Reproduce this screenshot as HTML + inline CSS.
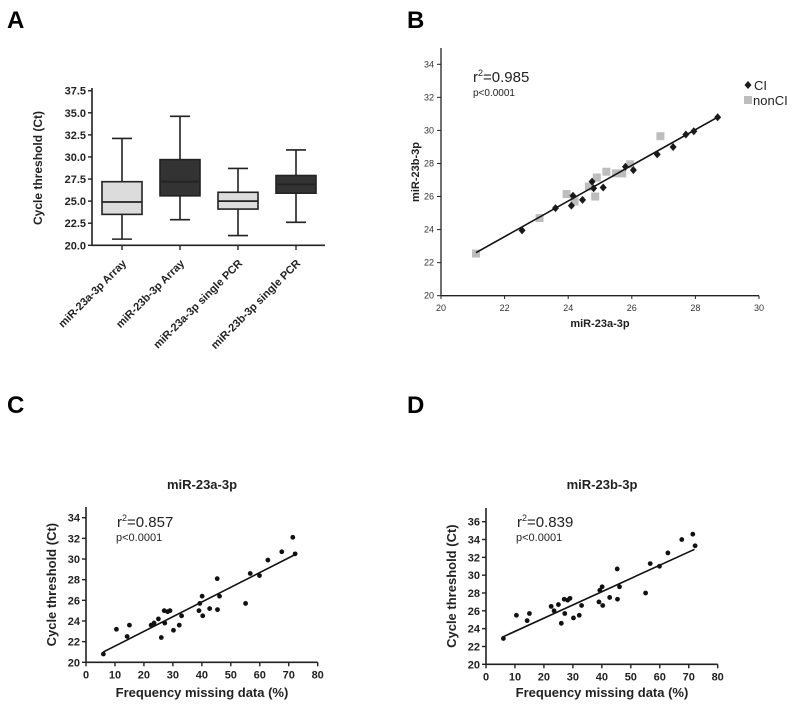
<!DOCTYPE html>
<html><head><meta charset="utf-8"><style>
html,body{margin:0;padding:0;background:#fff;}
svg{display:block;font-family:"Liberation Sans",Arial,sans-serif;}
</style></head><body>
<svg id="fig" width="800" height="708" viewBox="0 0 800 708" xmlns="http://www.w3.org/2000/svg">
<text x="7" y="28" font-size="24" font-weight="bold">A</text>
<text x="407" y="28" font-size="24" font-weight="bold">B</text>
<text x="7" y="413" font-size="24" font-weight="bold">C</text>
<text x="407" y="413" font-size="24" font-weight="bold">D</text>
<g id="pa"></g>
<g id="pb"></g>
<g id="pc"></g>
<g id="pd"></g>
</svg>
<script>
// Panel A data
const boxCategories = ["miR-23a-3p Array","miR-23b-3p Array","miR-23a-3p single PCR","miR-23b-3p single PCR"];
const boxMin = [20.7, 22.9, 21.1, 22.6];
const boxQ1 = [23.5, 25.6, 24.1, 25.9];
const boxMedian = [24.9, 27.2, 25.0, 26.9];
const boxQ3 = [27.2, 29.7, 26.0, 27.9];
const boxMax = [32.1, 34.6, 28.7, 30.8];
const boxFill = ["#dcdcdc","#333333","#dcdcdc","#333333"];
const boxTicks = ["20.0","22.5","25.0","27.5","30.0","32.5","35.0","37.5"];
// Panel B data
const bCIx = [22.55,23.6,24.1,24.15,24.45,24.75,24.8,25.1,25.8,26.05,26.8,27.3,27.7,27.95,28.7];
const bCIy = [23.95,25.3,25.45,26.05,25.8,26.9,26.5,26.55,27.8,27.6,28.55,29.0,29.75,29.95,30.8];
const bNonx = [21.1,23.1,23.95,24.2,24.65,24.85,24.9,25.2,25.5,25.7,25.95,26.9];
const bNony = [22.55,24.7,26.15,25.7,26.6,26.0,27.15,27.5,27.4,27.4,27.95,29.65];
const bFit = [[21.1,22.6],[28.7,30.8]];
const bXTicks = [20,22,24,26,28,30];
const bYTicks = [20,22,24,26,28,30,32,34];
// Panel C/D data
const freqX = [6,10.5,14.2,15,22.5,23.5,25,26,27,27.2,28.2,29,30.2,32.2,33,39,39.3,40.1,40.3,42.7,45.3,45.4,46.1,55.1,56.7,59.9,62.8,67.6,71.4,72.2];
const cY = [20.8,23.2,22.5,23.6,23.6,23.8,24.2,22.4,25,23.8,24.9,25,23.1,23.6,24.5,25,25.7,26.4,24.5,25.2,28.1,25.1,26.4,25.7,28.6,28.4,29.9,30.7,32.1,30.5];
const dY = [22.9,25.5,24.9,25.7,26.5,26,26.7,24.6,27.3,25.7,27.2,27.4,25.2,25.5,26.6,27,28.3,28.7,26.6,27.5,30.7,27.3,28.7,28,31.3,31,32.5,34,34.6,33.3];
const cFit = [[6,21.0],[72,30.4]];
const dFit = [[6,23.1],[72,32.9]];
const freqXTicks = [0,10,20,30,40,50,60,70,80];
const cYTicks = [20,22,24,26,28,30,32,34];
const dYTicks = [20,22,24,26,28,30,32,34,36];

const NS="http://www.w3.org/2000/svg";
function mk(parent,tag,attrs,text){const e=document.createElementNS(NS,tag);for(const k in attrs)e.setAttribute(k,attrs[k]);if(text!==undefined)e.textContent=text;parent.appendChild(e);return e;}
function lin(d0,d1,r0,r1){return v=>r0+(v-d0)*(r1-r0)/(d1-d0);}

// ---- Panel A
(function(){
  const g=document.getElementById('pa');
  const y=lin(20,37.5,245.3,90.7);
  const x0=92,x1=325,cx=[122,180,238,296];
  let e=mk(g,'line',{x1:x0,y1:88,x2:x0,y2:245.3,stroke:'#222','stroke-width':1.6});
  
  e=mk(g,'line',{x1:x0,y1:245.3,x2:x1,y2:245.3,stroke:'#222','stroke-width':1.6});
  
  boxTicks.forEach(t=>{const v=parseFloat(t);
    mk(g,'line',{x1:x0-4,y1:y(v),x2:x0,y2:y(v),stroke:'#222','stroke-width':1.4});
    e=mk(g,'text',{x:x0-6,y:y(v)+4,'font-size':11,'font-weight':'bold','text-anchor':'end',fill:'#222'},t);
    
  });
  e=mk(g,'text',{x:0,y:0,'font-size':12,'font-weight':'bold','text-anchor':'middle',transform:'translate(42,168) rotate(-90)',fill:'#222'},'Cycle threshold (Ct)');
  
  boxCategories.forEach((c,i)=>{const X=cx[i],hw=20;
    const b=mk(g,'g',{});
    mk(b,'line',{x1:X,y1:y(boxMax[i]),x2:X,y2:y(boxMin[i]),stroke:'#222','stroke-width':1.6});
    mk(b,'line',{x1:X-10,y1:y(boxMax[i]),x2:X+10,y2:y(boxMax[i]),stroke:'#222','stroke-width':1.6});
    mk(b,'line',{x1:X-10,y1:y(boxMin[i]),x2:X+10,y2:y(boxMin[i]),stroke:'#222','stroke-width':1.6});
    mk(b,'rect',{x:X-hw,y:y(boxQ3[i]),width:2*hw,height:y(boxQ1[i])-y(boxQ3[i]),fill:boxFill[i],stroke:'#222','stroke-width':1.6});
    mk(b,'line',{x1:X-hw,y1:y(boxMedian[i]),x2:X+hw,y2:y(boxMedian[i]),stroke:'#222','stroke-width':1.8});
    mk(g,'line',{x1:X,y1:245.3,x2:X,y2:250,stroke:'#222','stroke-width':1.4});
    e=mk(g,'text',{x:0,y:0,'font-size':11,'font-weight':'bold','text-anchor':'end',transform:`translate(${X+5},264) rotate(-45)`,fill:'#222'},c);
    
  });
})();

// ---- Panel B
(function(){
  const g=document.getElementById('pb');
  const x=lin(20,30,441,759), y=lin(20,34,295.7,64.3);
  let e=mk(g,'line',{x1:441,y1:48,x2:441,y2:295.7,stroke:'#222','stroke-width':1.3});
  
  e=mk(g,'line',{x1:441,y1:295.7,x2:759,y2:295.7,stroke:'#222','stroke-width':1.3});
  
  bXTicks.forEach(t=>{mk(g,'line',{x1:x(t),y1:295.7,x2:x(t),y2:299,stroke:'#222'});
    e=mk(g,'text',{x:x(t),y:311,'font-size':9,'text-anchor':'middle',fill:'#333'},t);
    });
  bYTicks.forEach(t=>{mk(g,'line',{x1:437,y1:y(t),x2:441,y2:y(t),stroke:'#222'});
    e=mk(g,'text',{x:434,y:y(t)+3,'font-size':9,'text-anchor':'end',fill:'#333'},t);
    });
  e=mk(g,'text',{x:600,y:327,'font-size':11,'font-weight':'bold','text-anchor':'middle',fill:'#222'},'miR-23a-3p');
  
  e=mk(g,'text',{x:0,y:0,'font-size':11,'font-weight':'bold','text-anchor':'middle',transform:'translate(419,172) rotate(-90)',fill:'#222'},'miR-23b-3p');
  
  e=mk(g,'text',{x:473,y:82,'font-size':15,fill:'#222'});e.innerHTML='r<tspan dy="-6" font-size="9">2</tspan><tspan dy="6">=0.985</tspan>';
  
  e=mk(g,'text',{x:473,y:96,'font-size':10,fill:'#222'},'p<0.0001');
  
  bNonx.forEach((v,i)=>{e=mk(g,'rect',{x:x(v)-4,y:y(bNony[i])-4,width:8,height:8,fill:'#bdbdbd'});
    });
  e=mk(g,'line',{x1:x(bFit[0][0]),y1:y(bFit[0][1]),x2:x(bFit[1][0]),y2:y(bFit[1][1]),stroke:'#111','stroke-width':1.6});
  
  bCIx.forEach((v,i)=>{const X=x(v),Y=y(bCIy[i]);
    e=mk(g,'polygon',{points:`${X},${Y-4} ${X+3.5},${Y} ${X},${Y+4} ${X-3.5},${Y}`,fill:'#1a1a1a'});
    });
  const lg=mk(g,'g',{});
  mk(lg,'polygon',{points:'748,81 751.5,85 748,89 744.5,85',fill:'#1a1a1a'});
  e=mk(lg,'text',{x:754,y:90,'font-size':13,fill:'#222'},'CI');
  mk(lg,'rect',{x:744,y:96,width:8,height:8,fill:'#bdbdbd'});
  e=mk(lg,'text',{x:753,y:105,'font-size':13,fill:'#222'},'nonCI');
})();

// ---- Panels C & D
function freqPanel(id,ox,yBot,yTopVal,yTopPx,axisTop,ys,fit,yTicks,title,r2){
  const g=document.getElementById(id);
  const x=lin(0,80,ox,ox+231.7), y=lin(20,yTopVal,yBot,yTopPx);
  let e=mk(g,'line',{x1:ox,y1:axisTop,x2:ox,y2:yBot,stroke:'#222','stroke-width':1.6});
  
  e=mk(g,'line',{x1:ox,y1:yBot,x2:ox+231.7,y2:yBot,stroke:'#222','stroke-width':1.6});
  
  freqXTicks.forEach(t=>{mk(g,'line',{x1:x(t),y1:yBot,x2:x(t),y2:yBot+4,stroke:'#222','stroke-width':1.4});
    e=mk(g,'text',{x:x(t),y:yBot+16,'font-size':11,'font-weight':'bold','text-anchor':'middle',fill:'#222'},t);
    });
  yTicks.forEach(t=>{mk(g,'line',{x1:ox-4,y1:y(t),x2:ox,y2:y(t),stroke:'#222','stroke-width':1.4});
    e=mk(g,'text',{x:ox-6,y:y(t)+4,'font-size':11,'font-weight':'bold','text-anchor':'end',fill:'#222'},t);
    });
  e=mk(g,'text',{x:ox+116,y:489,'font-size':13,'font-weight':'bold','text-anchor':'middle',fill:'#222'},title);
  
  e=mk(g,'text',{x:ox+116,y:697,'font-size':13,'font-weight':'bold','text-anchor':'middle',fill:'#222'},'Frequency missing data (%)');
  
  e=mk(g,'text',{x:0,y:0,'font-size':13,'font-weight':'bold','text-anchor':'middle',transform:`translate(${ox-30},${(yBot+axisTop)/2}) rotate(-90)`,fill:'#222'},'Cycle threshold (Ct)');
  
  e=mk(g,'text',{x:ox+31,y:527,'font-size':15,fill:'#222'});e.innerHTML='r<tspan dy="-6" font-size="9">2</tspan><tspan dy="6">='+r2+'</tspan>';
  
  e=mk(g,'text',{x:ox+30,y:541,'font-size':11,fill:'#222'},'p<0.0001');
  
  e=mk(g,'line',{x1:x(fit[0][0]),y1:y(fit[0][1]),x2:x(fit[1][0]),y2:y(fit[1][1]),stroke:'#111','stroke-width':1.6});
  
  freqX.forEach((v,i)=>{e=mk(g,'circle',{cx:x(v),cy:y(ys[i]),r:2.4,fill:'#111'});
    });
}
freqPanel('pc',86,662.3,34,517.7,507,cY,cFit,cYTicks,'miR-23a-3p','0.857');
freqPanel('pd',486,664.3,36,521.7,508,dY,dFit,dYTicks,'miR-23b-3p','0.839');
</script>
</body></html>
